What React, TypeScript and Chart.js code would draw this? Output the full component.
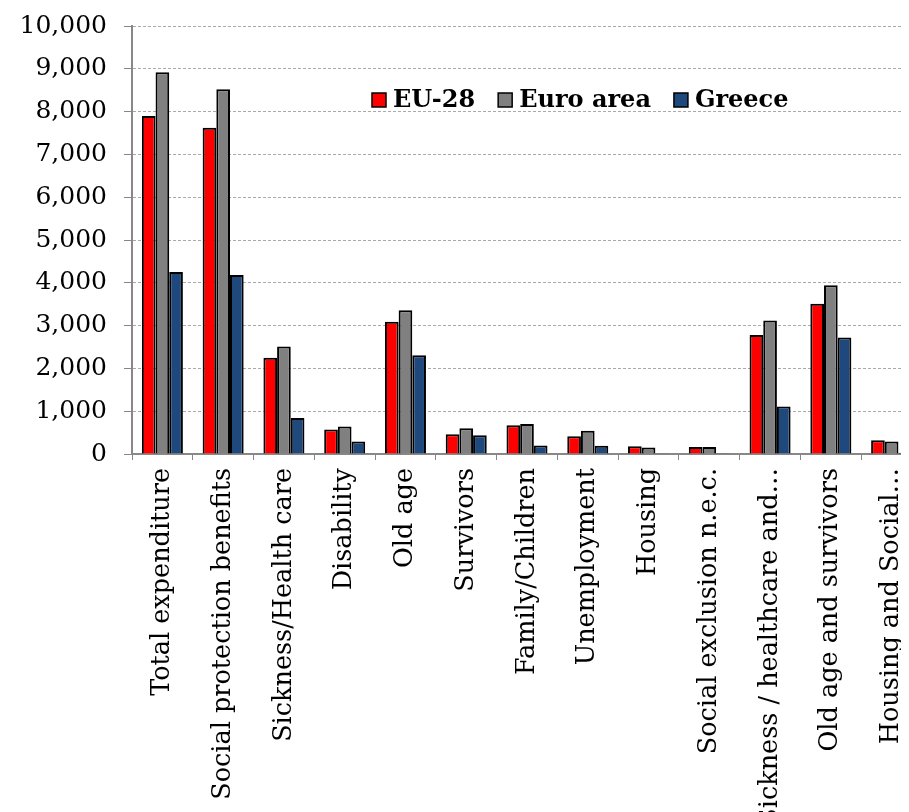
import React, { useEffect, useRef } from "react";
import { Chart, registerables } from "chart.js";

Chart.register(...registerables);

const categories = [
  "Total expenditure",
  "Social protection benefits",
  "Sickness/Health care",
  "Disability",
  "Old age",
  "Survivors",
  "Family/Children",
  "Unemployment",
  "Housing",
  "Social exclusion n.e.c.",
  "Sickness / healthcare and…",
  "Old age and survivors",
  "Housing and Social…",
];

const eu28 = [7900, 7620, 2250, 570, 3090, 460, 670, 415, 180, 165, 2780, 3510, 320];
const euroArea = [8920, 8520, 2510, 640, 3360, 600, 700, 545, 150, 165, 3120, 3940, 290];
const greece = [4250, 4180, 840, 290, 2310, 440, 200, 195, 20, 15, 1110, 2720, 30];

const seriesNames = ["EU-28", "Euro area", "Greece"];
const seriesColors = ["#FF0000", "#808080", "#1F497D"];

const FONT = "'DejaVu Serif', serif";

const legendPlugin = {
  id: "innerLegend",
  afterDraw(chart: any) {
    const { ctx, chartArea } = chart;
    ctx.save();
    ctx.font = `bold 24px ${FONT}`;
    ctx.textBaseline = "middle";
    ctx.textAlign = "left";
    let x = chartArea.left + 240;
    const cy = chartArea.top + 74;
    const box = 14;
    chart.data.datasets.forEach((ds: any) => {
      ctx.fillStyle = ds.backgroundColor;
      ctx.fillRect(x, cy - box / 2, box, box);
      ctx.lineWidth = 1.5;
      ctx.strokeStyle = "#000";
      ctx.strokeRect(x, cy - box / 2, box, box);
      ctx.fillStyle = "#000";
      ctx.fillText(ds.label, x + box + 7, cy + 1);
      x += box + 7 + ctx.measureText(ds.label).width + 23;
    });
    ctx.restore();
  },
};

export default function App() {
  const ref = useRef<HTMLCanvasElement | null>(null);

  useEffect(() => {
    if (!ref.current) return;
    const values = [eu28, euroArea, greece];
    const chart = new Chart(ref.current, {
      type: "bar",
      data: {
        labels: categories,
        datasets: values.map((v, i) => ({
          label: seriesNames[i],
          data: v,
          backgroundColor: seriesColors[i],
          borderColor: "#000",
          borderWidth: 2,
          categoryPercentage: 0.675,
          barPercentage: 1,
        })),
      },
      options: {
        responsive: false,
        animation: false,
        devicePixelRatio: 1,
        layout: { padding: { top: 18, right: 16, left: 0, bottom: 0 } },
        plugins: {
          legend: { display: false },
          tooltip: { enabled: false },
        },
        scales: {
          x: {
            afterFit: (scale: any) => {
              scale.height = 358;
              scale.paddingLeft = 0;
              scale.paddingRight = 0;
            },
            grid: {
              display: true,
              drawOnChartArea: false,
              drawTicks: true,
              tickLength: 6,
              tickColor: "#888",
              color: "#888",
              offset: true,
            },
            border: { display: true, color: "#888", width: 2 },
            ticks: {
              autoSkip: false,
              minRotation: 90,
              maxRotation: 90,
              padding: 8,
              color: "#000",
              font: { family: FONT, size: 25.5 },
            },
          },
          y: {
            min: 0,
            max: 10000,
            afterFit: (scale: any) => {
              scale.width = 124;
              scale.paddingTop = 0;
              scale.paddingBottom = 0;
            },
            grid: {
              color: "#aaa",
              lineWidth: 1,
              tickLength: 8,
              tickColor: "#888",
            },
            border: { display: true, color: "#888", width: 2, dash: [3, 2] },
            ticks: {
              stepSize: 1000,
              padding: 17,
              color: "#000",
              font: { family: FONT, size: 25 },
              callback: (v: any) => Number(v).toLocaleString("en-US"),
            },
          },
        },
      },
      plugins: [legendPlugin],
    });
    return () => chart.destroy();
  }, []);

  return (
    <div style={{ width: 901, height: 804, overflow: "hidden" }}>
      <canvas ref={ref} width={930} height={804} style={{ display: "block" }} />
    </div>
  );
}
